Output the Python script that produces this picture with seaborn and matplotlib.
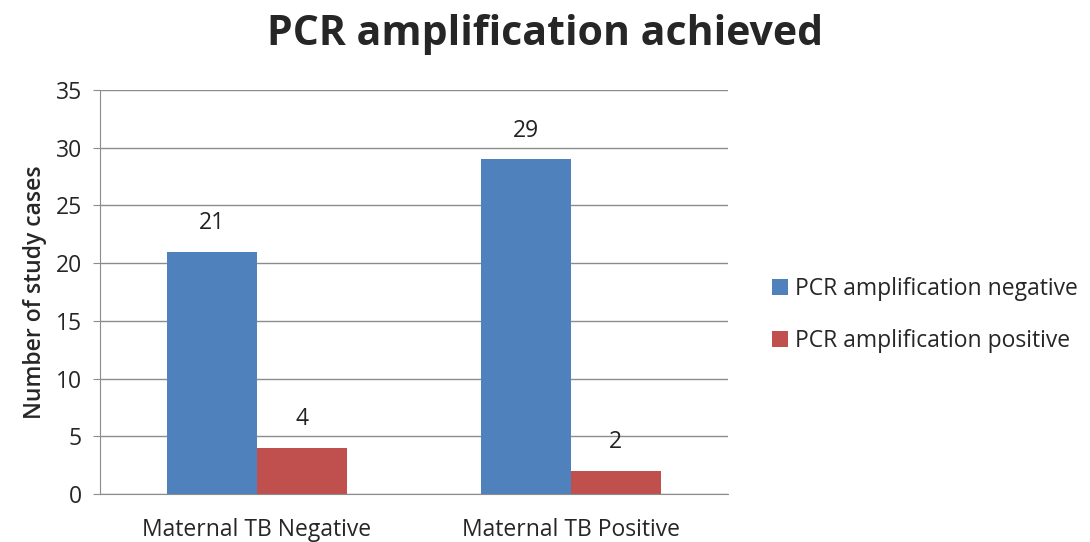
import matplotlib
matplotlib.use("Agg")
import matplotlib.pyplot as plt
import seaborn as sns
import pandas as pd

categories = ["Maternal TB Negative", "Maternal TB Positive"]
series_names = ["PCR amplification negative", "PCR amplification positive"]
neg_values = [21, 29]
pos_values = [4, 2]
colors = ["#4F81BD", "#C0504D"]

df = pd.DataFrame({
    "group": categories * 2,
    "series": [series_names[0]] * 2 + [series_names[1]] * 2,
    "cases": neg_values + pos_values,
})

sns.set_style("white")
plt.rcParams["font.family"] = ["Open Sans", "DejaVu Sans"]

fig = plt.figure(figsize=(10.9, 5.42), dpi=100)
ax = fig.add_axes([0.0917, 0.0886, 0.5761, 0.7454])

sns.barplot(data=df, x="group", y="cases", hue="series", palette=colors,
            width=0.573, ax=ax, saturation=1, linewidth=0)

for cont in ax.containers:
    ax.bar_label(cont, padding=12, fontsize=16.5, color="#222222")

ax.set_ylim(0, 35)
ax.set_yticks(range(0, 36, 5))
ax.yaxis.grid(True, color="#8c8c8c", linewidth=1)
ax.set_axisbelow(True)
for side in ["top", "right"]:
    ax.spines[side].set_visible(False)
for side in ["left", "bottom"]:
    ax.spines[side].set_color("#8c8c8c")
ax.tick_params(axis="y", labelsize=16.5, length=5, color="#8c8c8c", left=True, pad=8)
ax.tick_params(axis="x", labelsize=16.5, length=0, pad=17)
ax.set_xlabel("")
ax.set_ylabel("Number of study cases", fontsize=16.5, fontweight="semibold", labelpad=6)

fig.suptitle("PCR amplification achieved", fontsize=29.5, fontweight="bold", x=0.5, y=0.975)

ax.legend(loc="center left", bbox_to_anchor=(1.07, 0.443), frameon=False,
          fontsize=16.5, handlelength=0.7, handleheight=0.7, handletextpad=0.3,
          labelspacing=1.2, borderpad=0, borderaxespad=0)

fig.savefig("out.png", dpi=100)
